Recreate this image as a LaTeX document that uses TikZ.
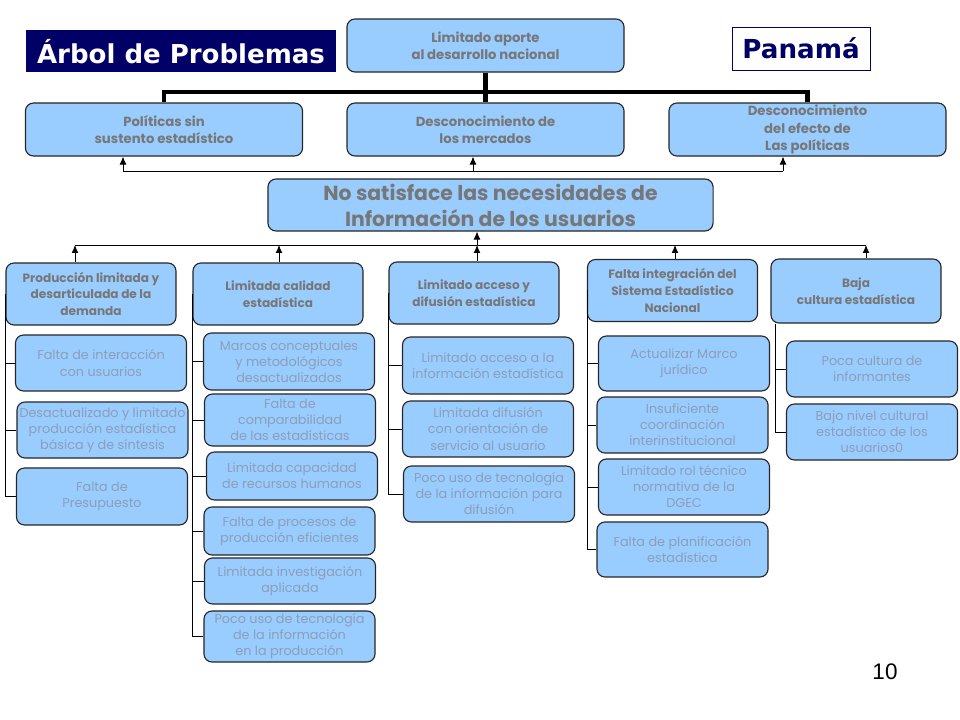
\documentclass[tikz,border=0pt]{standalone}
\usepackage{fontspec}
\setmainfont{Poppins}
\newfontfamily\titlefont{DejaVu Sans}
\newfontfamily\pagefont{Liberation Sans}
\usetikzlibrary{arrows.meta}

\definecolor{boxblue}{HTML}{99CCFF}
\definecolor{titlenavy}{HTML}{000066}
\definecolor{headgray}{HTML}{777777}
\definecolor{causegray}{HTML}{8C9FB6}

\tikzset{
	box/.style={draw=black!85, line width=0.8pt, fill=boxblue, rounded corners=0.2cm, align=center, inner sep=1pt},
	head/.style={box, text=headgray, font=\bfseries\fontsize{8.6}{11.8}\selectfont},
	toprow/.style={head, font=\bfseries\fontsize{9.4}{12.3}\selectfont, minimum width=6.925cm, minimum height=1.325cm},
	branch/.style={head, minimum width=4.25cm, minimum height=1.55cm},
	cause/.style={box, text=causegray, font=\fontsize{9.1}{11.4}\selectfont, minimum width=4.275cm, minimum height=1.4cm},
	link/.style={line width=0.6pt},
	arr/.style={link, -{Latex[length=2mm,width=1.7mm]}},
	bar/.style={line width=3.5pt}
}

\begin{document}
\begin{tikzpicture}[x=0.025cm, y=-0.025cm]
		%%%%% START %%%%%
		\useasboundingbox (0,0) rectangle (960,720);
		
		\node[fill=titlenavy, text=white, minimum width=7.75cm, minimum height=1.05cm, font=\titlefont\bfseries\fontsize{18.5}{20}\selectfont] (titel) at (181,51.5) {Árbol de Problemas};
		\node[draw=titlenavy, fill=white, line width=0.6pt, text=titlenavy, minimum width=3.45cm, minimum height=1.075cm, font=\titlefont\bfseries\fontsize{18.6}{20}\selectfont] (land) at (801,48.5) {Panamá};
		
		\node[toprow] (aporte) at (485.5,45.5) {Limitado aporte\\al desarrollo nacional};
		
		\node[toprow] (politicas) at (164,129.5) {Políticas sin\\sustento estadístico};
		\node[toprow] (mercados) at (485.5,129.5) {Desconocimiento de\\los mercados};
		\node[toprow] (efecto) at (807.5,129.5) {Desconocimiento\\del efecto de\\Las políticas};
		
		\coordinate (topbus) at (485.5,92);
		\draw[bar] (aporte) -- (mercados);
		\draw[bar] (politicas.north) |- (topbus) -| (efecto.north);
		
		\node[head, minimum width=11.125cm, minimum height=1.3cm, font=\bfseries\fontsize{14.5}{18.5}\selectfont] (necesidad) at (490.5,205) {No satisface las necesidades de\\Información de los usuarios};
		
		\coordinate (up1) at (123,171);
		\coordinate (up2) at (473,171);
		\coordinate (up3) at (783,171);
		\draw[link] (up1) -- (up3);
		\draw[arr] (up1) -- (up1 |- politicas.south);
		\draw[arr] (up2) -- (up2 |- mercados.south);
		\draw[arr] (up3) -- (up3 |- efecto.south);
		
		\node[branch] (produccion) at (91,294) {Producción limitada y\\desarticulada de la\\demanda};
		\node[branch] (calidad) at (278,294) {Limitada calidad\\estadística};
		\node[branch] (acceso) at (474,293) {Limitado acceso y\\difusión estadística};
		\node[branch] (integracion) at (672.5,290.5) {Falta integración del\\Sistema Estadístico\\Nacional};
		\node[branch, minimum height=1.6cm] (cultura) at (856,291) {Baja\\cultura estadística};
		
		\coordinate (dn1) at (75,245);
		\coordinate (dn2) at (279,245);
		\coordinate (dn3) at (477,245);
		\coordinate (dn4) at (675,245);
		\coordinate (dn5) at (866,245);
		\draw[link] (dn1) -- (dn5);
		\draw[arr] (dn3) -- (dn3 |- necesidad.south);
		\draw[arr] (dn1 |- produccion.north) -- (dn1);
		\draw[arr] (dn2 |- calidad.north) -- (dn2);
		\draw[arr] (dn3 |- acceso.north) -- (dn3);
		\draw[arr] (dn4 |- integracion.north) -- (dn4);
		\draw[arr] (dn5 |- cultura.north) -- (dn5);
		
		\node[cause] (interaccion) at (101,363) {Falta de interacción\\con usuarios};
		\node[cause] (sintesis) at (102.5,430) {Desactualizado y limitado\\producción estadística\\básica y de síntesis};
		\node[cause, minimum height=1.425cm] (presupuesto) at (102,496.5) {Falta de\\Presupuesto};
		\draw[link] (produccion.west) |- (presupuesto.west);
		\draw[link] (produccion.west |- interaccion.west) -- (interaccion.west);
		\draw[link] (produccion.west |- sintesis.west) -- (sintesis.west);
		
		\node[cause, minimum height=1.425cm] (marcos) at (289,361.5) {Marcos conceptuales\\y metodológicos\\desactualizados};
		\node[cause, minimum height=1.3cm] (comparab) at (290,420) {Falta de\\comparabilidad\\de las estadísticas};
		\node[cause, minimum height=1.2cm] (rrhh) at (292,476) {Limitada capacidad\\de recursos humanos};
		\node[cause, minimum height=1.2cm] (procesos) at (289.5,531) {Falta de procesos de\\producción eficientes};
		\node[cause, minimum height=1.15cm] (investig) at (290,581) {Limitada investigación\\aplicada};
		\node[cause, minimum height=1.275cm] (tecprod) at (289.5,636.5) {Poco uso de tecnología\\de la información\\en la producción};
		\draw[link] (calidad.west) |- (tecprod.west);
		\draw[link] (calidad.west |- marcos.west) -- (marcos.west);
		\draw[link] (calidad.west |- comparab.west) -- (comparab.west);
		\draw[link] (calidad.west |- rrhh.west) -- (rrhh.west);
		\draw[link] (calidad.west |- procesos.west) -- (procesos.west);
		\draw[link] (calidad.west |- investig.west) -- (investig.west);
		
		\node[cause, minimum height=1.425cm] (accesoinfo) at (488,365.5) {Limitado acceso a la\\información estadística};
		\node[cause] (difusion) at (488,429) {Limitada difusión\\con orientación de\\servicio al usuario};
		\node[cause] (tecdif) at (489,494) {Poco uso de tecnología\\de la información para\\difusión};
		\draw[link] (acceso.west) |- (tecdif.west);
		\draw[link] (acceso.west |- accesoinfo.west) -- (accesoinfo.west);
		\draw[link] (acceso.west |- difusion.west) -- (difusion.west);
		
		\node[cause, minimum height=1.375cm] (marco) at (684,363.5) {Actualizar Marco\\jurídico};
		\node[cause] (coordin) at (682.5,425) {Insuficiente\\coordinación\\interinstitucional};
		\node[cause] (rol) at (684,487) {Limitado rol técnico\\normativa de la\\DGEC};
		\node[cause, minimum height=1.375cm] (planif) at (682.5,549.5) {Falta de planificación\\estadística};
		\draw[link] (integracion.west) |- (planif.west);
		\draw[link] (integracion.west |- marco.west) -- (marco.west);
		\draw[link] (integracion.west |- coordin.west) -- (coordin.west);
		\draw[link] (integracion.west |- rol.west) -- (rol.west);
		
		\node[cause] (informantes) at (872,369) {Poca cultura de\\informantes};
		\node[cause] (nivel) at (872,432) {Bajo nivel cultural\\estadístico de los\\usuarios0};
		\coordinate (sp5) at ([xshift=1.25mm]cultura.south west);
		\draw[link] (sp5) |- (nivel.west);
		\draw[link] (sp5 |- informantes.west) -- (informantes.west);
		
		\node[font=\pagefont\fontsize{16}{18}\selectfont] (seite) at (885,672) {10};
		%%%%% END %%%%%
\end{tikzpicture}
\end{document}
